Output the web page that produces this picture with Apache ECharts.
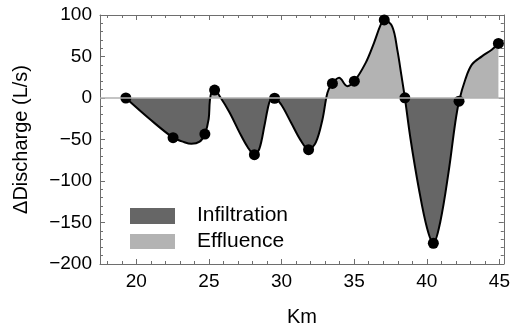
<!DOCTYPE html>
<html>
<head>
<meta charset="utf-8">
<script src="https://cdn.jsdelivr.net/npm/echarts@6/dist/echarts.min.js"></script>
<style>
  html, body { margin: 0; padding: 0; background: #fff; }
  #chart { width: 513px; height: 332px; }
</style>
</head>
<body>
<div id="chart"></div>
<script>
// Measured discharge differences along the river (km, L/s)
const stationKm = [19.28, 22.53, 24.72, 25.39, 28.13, 29.52, 31.86, 33.5, 35.01, 37.07, 38.49, 40.45, 42.22, 44.93];
const stationDelta = [0, -47.8, -43.4, 9.5, -68.3, -0.3, -62.2, 17.5, 20.2, 94, 0.2, -175, -3.8, 65.7];

// Course of the fitted curve through the stations (km, L/s)
const curveKm = [19.28, 20.9, 22.53, 23.2, 23.79, 24.36, 24.72, 24.98, 25.06, 25.18, 25.39,
  25.73, 26.42, 27.1, 27.67, 28.13, 28.47, 28.82, 29.04, 29.23, 29.52, 29.96, 30.65, 31.33,
  31.86, 32.36, 32.82, 33.16, 33.5, 33.96, 34.53, 35.01, 35.79, 36.36, 36.82, 37.07, 37.62,
  37.97, 38.26, 38.49, 38.88, 39.45, 40.02, 40.45, 40.93, 41.5, 41.96, 42.22, 42.65, 43.1,
  43.79, 44.47, 44.93];
const curveDelta = [0, -25, -47.8, -52.6, -55.2, -52.6, -43.4, -25.5, -4, 7, 9.5,
  2.4, -17.5, -41.4, -59.3, -68.3, -61.3, -33.5, -13.5, -2.4, -0.3, -7.6, -29.5, -51.4,
  -62.2, -53.4, -25.5, 6.4, 17.5, 24.3, 14.3, 20.2, 42.3, 66.2, 88, 94, 86,
  58, 26.3, 0.2, -49.4, -109, -157, -175, -149, -89, -29.5, -3.8, 22.3, 40.2,
  50.2, 58.2, 65.7];

const yTicks = [-200, -150, -100, -50, 0, 50, 100];
const legendNames = ['Infiltration', 'Effluence'];
const infiltrationColor = '#666666';
const effluenceColor = '#b3b3b3';

const FONT = '"Liberation Sans", Arial, sans-serif';
const frameColor = '#6e6e6e';
const yMin = yTicks[0];
const yMax = yTicks[yTicks.length - 1];

const curveData = curveKm.map((k, i) => [k, curveDelta[i]]);
const stationData = stationKm.map((k, i) => [k, stationDelta[i]]);

function axisBase(extra) {
  return Object.assign({
    type: 'value',
    axisLine: { show: true, onZero: false, lineStyle: { color: frameColor, width: 1 } },
    axisTick: { show: true, inside: true, length: 5, lineStyle: { color: frameColor } },
    minorTick: { show: true, splitNumber: 5, length: 3, lineStyle: { color: frameColor } },
    splitLine: { show: false },
    minorSplitLine: { show: false }
  }, extra);
}

const chart = echarts.init(document.getElementById('chart'), null, { renderer: 'canvas' });

chart.setOption({
  animation: false,
  backgroundColor: '#ffffff',
  grid: { left: 100, right: 8, top: 15, bottom: 65 },
  xAxis: [
    axisBase({
      position: 'bottom', min: 17.5, max: 45.3,
      name: 'Km', nameLocation: 'middle', nameGap: 43,
      nameTextStyle: { fontFamily: FONT, fontSize: 20, color: '#000' },
      axisLabel: {
        fontFamily: FONT, fontSize: 19, color: '#000', margin: 8,
        showMinLabel: false, showMaxLabel: false
      }
    }),
    axisBase({ position: 'top', min: 17.5, max: 45.3, axisLabel: { show: false } })
  ],
  yAxis: [
    axisBase({
      position: 'left', min: yMin, max: yMax, interval: 50,
      name: 'ΔDischarge (L/s)', nameLocation: 'middle', nameGap: 69,
      nameTextStyle: { fontFamily: FONT, fontSize: 20, color: '#000' },
      axisLabel: {
        fontFamily: FONT, fontSize: 19, color: '#000', margin: 8,
        formatter: v => (v < 0 ? '\u2212' + Math.abs(v) : String(v))
      }
    }),
    axisBase({
      position: 'right', min: yMin, max: yMax, interval: 50,
      axisLabel: { show: false }
    })
  ],
  series: [
    {
      // filled area between the curve and zero
      type: 'line',
      data: curveData,
      smooth: 0.35,
      showSymbol: false,
      z: 1,
      lineStyle: { width: 0, opacity: 0 },
      areaStyle: { opacity: 1, origin: 0, color: infiltrationColor },
      markLine: {
        silent: true,
        symbol: 'none',
        label: { show: false },
        lineStyle: { color: '#b0b0b0', width: 1.5, type: 'solid' },
        data: [{ yAxis: 0 }]
      }
    },
    {
      // curve outline
      type: 'line',
      data: curveData,
      smooth: 0.35,
      showSymbol: false,
      z: 3,
      lineStyle: { color: '#000', width: 2 }
    },
    {
      // measured stations
      type: 'scatter',
      data: stationData,
      symbolSize: 11,
      z: 4,
      itemStyle: { color: '#000', opacity: 1 }
    }
  ],
  graphic: [
    { type: 'rect', left: 130, top: 208, shape: { width: 45, height: 16 }, style: { fill: infiltrationColor } },
    { type: 'rect', left: 130, top: 234, shape: { width: 45, height: 15 }, style: { fill: effluenceColor } },
    { type: 'text', left: 197, top: 205, style: { text: legendNames[0], font: '21px ' + FONT, fill: '#000' } },
    { type: 'text', left: 197, top: 231, style: { text: legendNames[1], font: '21px ' + FONT, fill: '#000' } }
  ]
});

// Split the fill colour at zero: light above the axis, dark below
const topPx = chart.convertToPixel({ yAxisIndex: 0 }, yMax);
const zeroPx = chart.convertToPixel({ yAxisIndex: 0 }, 0);
const bottomPx = chart.convertToPixel({ yAxisIndex: 0 }, yMin);
const split = (zeroPx - topPx) / (bottomPx - topPx);
chart.setOption({
  series: [{
    areaStyle: {
      color: new echarts.graphic.LinearGradient(0, topPx, 0, bottomPx, [
        { offset: 0, color: effluenceColor },
        { offset: split, color: effluenceColor },
        { offset: split, color: infiltrationColor },
        { offset: 1, color: infiltrationColor }
      ], true)
    }
  }]
});
</script>
</body>
</html>
